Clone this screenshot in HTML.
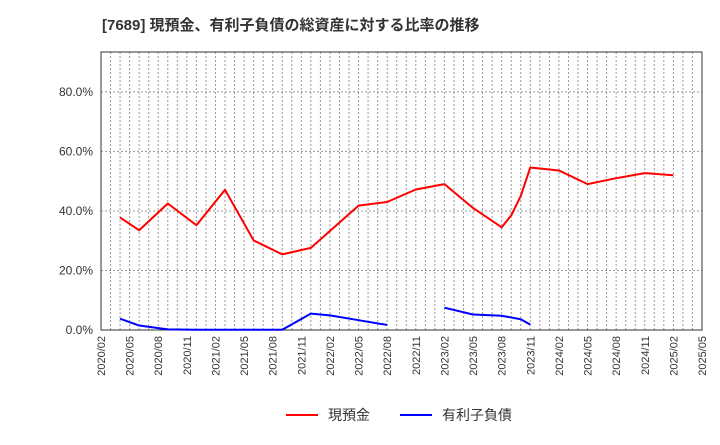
<!DOCTYPE html>
<html><head><meta charset="utf-8">
<style>
body{margin:0;background:#fff;font-family:"Liberation Sans","Noto Sans CJK JP",sans-serif;}
svg text{font-family:"Liberation Sans","Noto Sans CJK JP",sans-serif;}
</style></head>
<body>
<svg id="chart" width="720" height="440" xmlns="http://www.w3.org/2000/svg">
<text x="102" y="30" font-size="15" font-weight="bold" fill="#333">[7689]  現預金、有利子負債の総資産に対する比率の推移</text>
<g id="grid"></g>
<g id="axes"></g>
<g id="series"></g>
<g>
<line x1="286" y1="415" x2="318" y2="415" stroke="#ff0000" stroke-width="2"/>
<text x="328" y="420" font-size="14" fill="#333">現預金</text>
<line x1="400" y1="415" x2="432" y2="415" stroke="#0000ff" stroke-width="2"/>
<text x="442" y="420" font-size="14" fill="#333">有利子負債</text>
</g>
</svg>
<script>
const xTickLabels=["2020/02","2020/05","2020/08","2020/11","2021/02","2021/05","2021/08","2021/11","2022/02","2022/05","2022/08","2022/11","2023/02","2023/05","2023/08","2023/11","2024/02","2024/05","2024/08","2024/11","2025/02","2025/05"];
const yTicks=[0,20,40,60,80];
const cashMonths=[2,4,7,10,13,16,19,22,27,30,33,36,39,42,43,44,45,48,51,54,57,60];
const cashValues=[37.8,33.5,42.5,35.2,47.1,30.1,25.4,27.6,41.8,43.0,47.2,49.0,41.0,34.5,38.5,45.0,54.6,53.6,49.0,51.0,52.7,52.0];
const debtMonths=[2,4,7,10,13,16,19,22,24,27,30,null,36,39,42,44,45];
const debtValues=[3.8,1.5,0.2,0.1,0.1,0.1,0.1,5.5,4.9,3.3,1.7,null,7.5,5.2,4.8,3.6,1.8];
const X0=101,X1=702,Y0=330,Y1=52,NM=63,YMAX=93.4;
const xs=m=>X0+m*(X1-X0)/NM;
const ys=v=>Y0-v*(Y0-Y1)/YMAX;
const NS="http://www.w3.org/2000/svg";
function mk(t,a,p){const e=document.createElementNS(NS,t);for(const k in a)e.setAttribute(k,a[k]);p.appendChild(e);return e;}
const grid=document.getElementById('grid'),axes=document.getElementById('axes'),ser=document.getElementById('series');
for(let m=1;m<NM;m++){const l=mk('line',{x1:xs(m),x2:xs(m),y1:Y1,y2:Y0,stroke:'#999','stroke-dasharray':'2,2','stroke-width':1},grid);

}
yTicks.forEach(v=>{if(v>0){const l=mk('line',{x1:X0,x2:X1,y1:ys(v),y2:ys(v),stroke:'#999','stroke-dasharray':'2,2'},grid);

}
const t=mk('text',{x:X0-8,y:ys(v)+4,'font-size':12,'text-anchor':'end',fill:'#333'},axes);t.textContent=v.toFixed(1)+'%';

});
const fr=mk('rect',{x:X0,y:Y1,width:X1-X0,height:Y0-Y1,fill:'none',stroke:'#333'},axes);


xTickLabels.forEach((s,i)=>{const x=xs(i*3);const t=mk('text',{x:x+4,y:Y0+6,'font-size':11,'text-anchor':'end',fill:'#333',transform:`rotate(-90 ${x+4} ${Y0+6})`},axes);t.textContent=s;

});
function draw(ms,vs,col,name){let d='',pen=false;ms.forEach((m,i)=>{if(m===null||vs[i]===null){pen=false;return;}d+=(pen?'L':'M')+xs(m)+' '+ys(vs[i]);pen=true;});
const p=mk('path',{d:d,fill:'none',stroke:col,'stroke-width':2,'stroke-linejoin':'round'},ser);

}
draw(cashMonths,cashValues,'#ff0000','cash-line');
draw(debtMonths,debtValues,'#0000ff','debt-line');
</script>
</body></html>
